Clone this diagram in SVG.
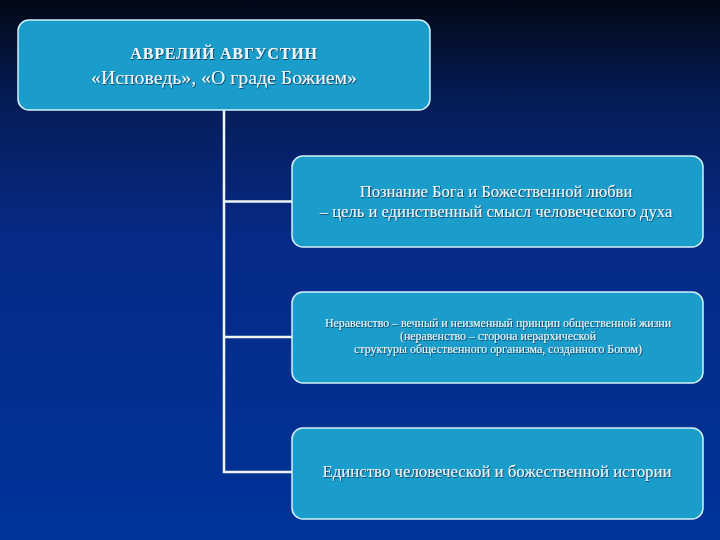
<svg xmlns="http://www.w3.org/2000/svg" width="720" height="540" viewBox="0 0 720 540">
<defs>
<linearGradient id="bg" x1="0" y1="0" x2="0" y2="1">
<stop offset="0" stop-color="#020817"/>
<stop offset="0.2" stop-color="#051d5a"/>
<stop offset="0.45" stop-color="#062a88"/>
<stop offset="1" stop-color="#003399"/>
</linearGradient>
<filter id="sh" x="-5%" y="-30%" width="110%" height="160%">
<feDropShadow dx="0.8" dy="0.8" stdDeviation="0.4" flood-color="#0a2a50" flood-opacity="0.9"/>
</filter>
</defs>
<style>
.box{fill:#1a9dcb;stroke:#d4f1fa;stroke-width:1.5}
.t{font-family:"Liberation Serif","DejaVu Serif",serif;fill:#eef8fb;text-anchor:middle;filter:url(#sh)}
.conn{stroke:#eef6fb;stroke-width:2.5;fill:none}
</style>
<rect width="720" height="540" fill="url(#bg)"/>
<g id="connectors">
<path class="conn" d="M224,110 V472 H292 M224,201.5 H292 M224,337 H292"/>
</g>
<g id="n0">
<rect class="box" x="18" y="20" width="412" height="90" rx="11"/>
<text class="t" x="224" y="59" font-size="16" font-weight="bold" letter-spacing="0.8">АВРЕЛИЙ АВГУСТИН</text>
<text class="t" x="224" y="84" font-size="19.8">«Исповедь», «О граде Божием»</text>
</g>
<g id="n1">
<rect class="box" x="292" y="156" width="411" height="91" rx="11"/>
<text class="t" x="496" y="197" font-size="16.6">Познание Бога и Божественной любви</text>
<text class="t" x="496" y="217" font-size="16.6">– цель и единственный смысл человеческого духа</text>
</g>
<g id="n2">
<rect class="box" x="292" y="292" width="411" height="91" rx="11"/>
<text class="t" x="498" y="327" font-size="11.9">Неравенство – вечный и неизменный принцип общественной жизни</text>
<text class="t" x="498" y="340" font-size="11.9">(неравенство – сторона иерархической</text>
<text class="t" x="498" y="353" font-size="11.9">структуры общественного организма, созданного Богом)</text>
</g>
<g id="n3">
<rect class="box" x="292" y="428" width="411" height="91" rx="11"/>
<text class="t" x="497" y="477" font-size="16.8">Единство человеческой и божественной истории</text>
</g>
</svg>
